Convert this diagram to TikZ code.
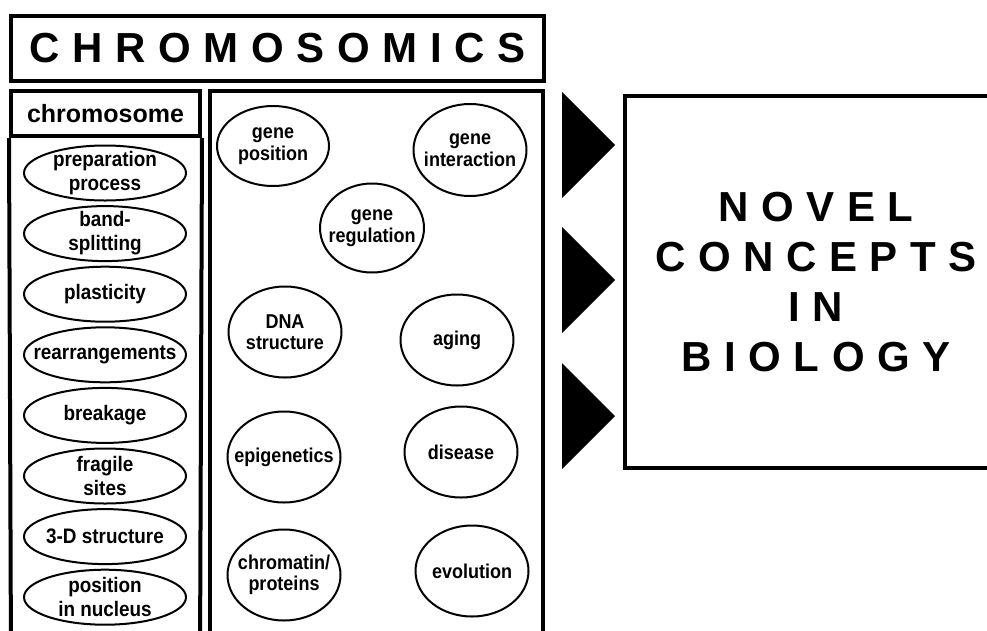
\documentclass[tikz,border=0pt]{standalone}
\usepackage{fontspec}
\setmainfont{Liberation Sans}
\newfontfamily\widefont[LetterSpace=30]{Liberation Sans}
\newfontfamily\labelfont[FakeStretch=0.9]{Liberation Sans}
\usetikzlibrary{shapes.geometric}

\begin{document}
\begin{tikzpicture}[x=1pt, y=-1pt,
                    box/.style={rectangle, draw=black, line width=4pt, inner sep=0pt},
                    item/.style={ellipse, draw=black, line width=2pt, inner xsep=-30pt, inner ysep=-12pt,
                                 minimum width=162pt, minimum height=55pt, align=center,
                                 font=\labelfont\fontsize{21}{24}\selectfont\bfseries},
                    topic/.style={ellipse, draw=black, line width=2pt, inner xsep=-30pt, inner ysep=-12pt,
                                  minimum width=113pt, minimum height=91pt, align=center,
                                  font=\labelfont\fontsize{20}{21.5}\selectfont\bfseries},
                    banner/.style={align=center, font=\widefont\fontsize{42}{50}\selectfont\bfseries}]
                    \useasboundingbox (0,0) rectangle (987,630);
                    \clip (0,0) rectangle (987,630);
                    % heading
                    \node[box, minimum width=533pt, minimum height=65pt, banner] (title) at (277.5,48.5) {CHROMOSOMICS};
                    % left column
                    \node[box, minimum width=189pt, minimum height=45pt, font=\fontsize{25}{28}\selectfont\bfseries] (chrom) at (105.5,113.5) {chromosome};
                    \draw[line width=4pt] (chrom.south west) -- (11,660) -- (200,660) -- (chrom.south east);
                    \foreach \txt [count=\i from 0] in {{preparation\\process}, {band-\\splitting}, {plasticity}, {rearrangements},
                                                       {breakage}, {fragile\\sites}, {3-D structure}, {position\\in nucleus}}
                        \node[item] (item\i) at (105, 173+60.6*\i) {\txt};
                    % middle column
                    \draw[line width=4pt] (210,660) rectangle (543,91);
                    \node[topic, minimum width=112pt, minimum height=80pt] (genepos) at (273,146) {gene\\position};
                    \node[topic, minimum height=92pt] (geneint) at (470,150) {gene\\interaction};
                    \node[topic, minimum width=104pt, minimum height=89pt] (genereg) at (372,228) {gene\\regulation};
                    \node[topic] (dna) at (285,332) {DNA\\structure};
                    \node[topic] (aging) at (457,340) {aging};
                    \node[topic] (epi) at (284,457) {epigenetics};
                    \node[topic] (disease) at (461,452) {disease};
                    \node[topic] (chromatin) at (284,575) {chromatin/\\proteins};
                    \node[topic] (evol) at (472,571) {evolution};
                    % pointers
                    \foreach \y in {145,280,416}
                        \fill (562,\y-53) -- (615,\y) -- (562,\y+53) -- cycle;
                    % outcome
                    \node[box, minimum width=382pt, minimum height=372pt, banner] (novel) at (816,282) {NOVEL\\CONCEPTS\\IN\\BIOLOGY};
                \end{tikzpicture}
\end{document}
